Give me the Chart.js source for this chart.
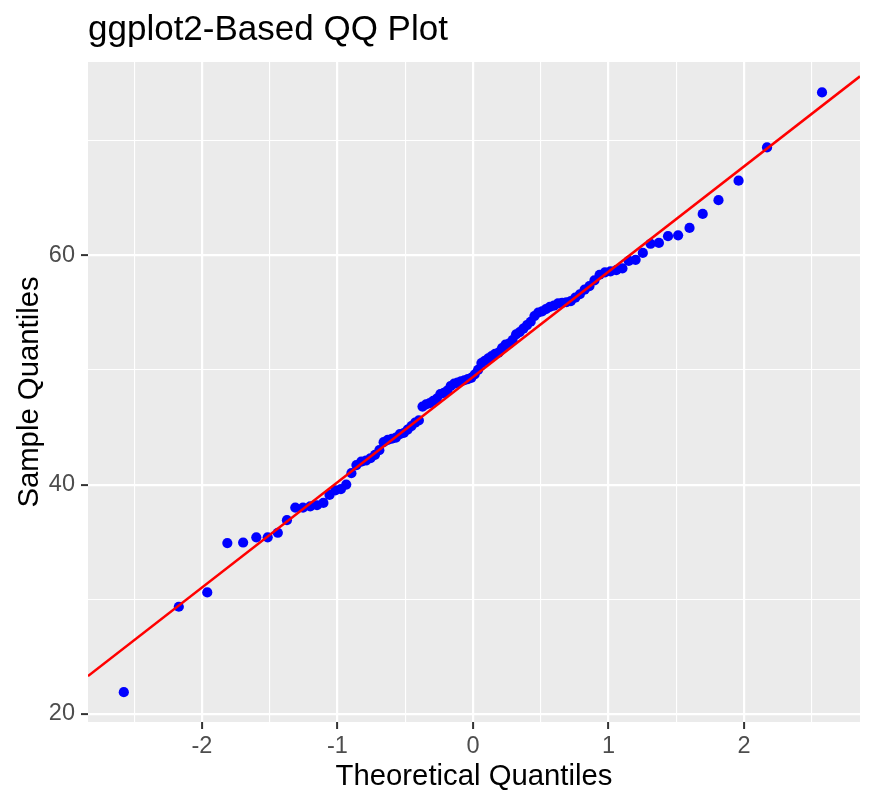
<!DOCTYPE html>
<html>
<head>
<meta charset="utf-8">
<title>ggplot2-Based QQ Plot</title>
<script src="https://cdn.jsdelivr.net/npm/chart.js@4/dist/chart.umd.min.js"></script>
<style>
  html, body { margin: 0; padding: 0; background: #fff; }
  #wrap { width: 874px; height: 806px; }
</style>
</head>
<body>
<div id="wrap"><canvas id="chart" width="874" height="806"></canvas></div>
<script>
// theoretical quantiles (x) and sorted sample values (y)
const theoretical = [
  -2.5758, -2.1701, -1.9600, -1.8119, -1.6954, -1.5982, -1.5141, -1.4395, -1.3722, -1.3106,
  -1.2536, -1.2004, -1.1503, -1.1031, -1.0581, -1.0152, -0.9741, -0.9346, -0.8965, -0.8596,
  -0.8239, -0.7892, -0.7554, -0.7225, -0.6903, -0.6588, -0.6280, -0.5978, -0.5681, -0.5388,
  -0.5101, -0.4817, -0.4538, -0.4261, -0.3989, -0.3719, -0.3451, -0.3186, -0.2924, -0.2663,
  -0.2404, -0.2147, -0.1891, -0.1637, -0.1383, -0.1130, -0.0878, -0.0627, -0.0376, -0.0125,
  0.0125, 0.0376, 0.0627, 0.0878, 0.1130, 0.1383, 0.1637, 0.1891, 0.2147, 0.2404,
  0.2663, 0.2924, 0.3186, 0.3451, 0.3719, 0.3989, 0.4261, 0.4538, 0.4817, 0.5101,
  0.5388, 0.5681, 0.5978, 0.6280, 0.6588, 0.6903, 0.7225, 0.7554, 0.7892, 0.8239,
  0.8596, 0.8965, 0.9346, 0.9741, 1.0152, 1.0581, 1.1031, 1.1503, 1.2004, 1.2536,
  1.3106, 1.3722, 1.4395, 1.5141, 1.5982, 1.6954, 1.8119, 1.9600, 2.1701, 2.5758
];

const sample = [
  21.9, 29.35, 30.6, 34.9, 34.95, 35.4, 35.4, 35.8, 36.9, 38.0,
  38.0, 38.1, 38.2, 38.4, 39.1, 39.5, 39.6, 40.0, 41.0, 41.7,
  42.0, 42.1, 42.3, 42.6, 43.0, 43.7, 43.9, 44.0, 44.1, 44.4,
  44.5, 44.8, 45.1, 45.4, 45.6, 46.8, 47.0, 47.1, 47.3, 47.5,
  47.9, 48.0, 48.2, 48.6, 48.8, 48.9, 49.0, 49.1, 49.2, 49.3,
  49.6, 50.0, 50.6, 50.8, 51.0, 51.2, 51.4, 51.5, 51.9, 52.2,
  52.3, 52.6, 53.1, 53.3, 53.6, 53.9, 54.2, 54.7, 55.0, 55.1,
  55.3, 55.5, 55.6, 55.8, 55.85, 55.9, 56.0, 56.3, 56.6, 57.0,
  57.3, 57.8, 58.3, 58.5, 58.6, 58.7, 58.85, 59.5, 59.6, 60.2,
  61.0, 61.07, 61.66, 61.74, 62.38, 63.6, 64.8, 66.5, 69.4, 74.2
];

// reference line end points (across the whole panel)
const lineX = [-2.84, 2.856];
const lineY = [23.3, 75.6];

const xTicks = [-2.5, -2, -1.5, -1, -0.5, 0, 0.5, 1, 1.5, 2, 2.5];
const yTicks = [20, 30, 40, 50, 60, 70];

const FONT = '"Liberation Sans", Arial, Helvetica, sans-serif';

const isMajorX = (v) => Number.isInteger(v);
const isMajorY = (v) => v % 20 === 0;

const panelPlugin = {
  id: 'panel',
  beforeDraw(chart) {
    const { ctx, chartArea } = chart;
    ctx.save();
    ctx.fillStyle = '#EBEBEB';
    ctx.fillRect(chartArea.left, chartArea.top,
      chartArea.right - chartArea.left, chartArea.bottom - chartArea.top);
    ctx.restore();
  },
  afterDraw(chart) {
    const { ctx } = chart;
    ctx.save();
    ctx.fillStyle = '#000';
    ctx.font = '35px ' + FONT;
    ctx.textBaseline = 'alphabetic';
    ctx.textAlign = 'left';
    ctx.fillText('ggplot2-Based QQ Plot', chart.chartArea.left, 40);
    ctx.restore();
  }
};

const points = theoretical.map((x, i) => ({ x, y: sample[i] }));
const line = lineX.map((x, i) => ({ x, y: lineY[i] }));

const ctx = document.getElementById('chart').getContext('2d');

new Chart(ctx, {
  type: 'scatter',
  data: {
    datasets: [
      {
        type: 'line',
        data: line,
        borderColor: '#FF0000',
        borderWidth: 2.5,
        pointRadius: 0,
        fill: false,
        order: 1
      },
      {
        data: points,
        backgroundColor: '#0000FF',
        borderColor: '#0000FF',
        pointRadius: 5.1,
        borderWidth: 0,
        order: 2
      }
    ]
  },
  options: {
    responsive: false,
    animation: false,
    devicePixelRatio: 1,
    layout: { padding: { top: 62, right: 14, left: 0, bottom: 0 } },
    plugins: {
      legend: { display: false },
      tooltip: { enabled: false }
    },
    scales: {
      x: {
        type: 'linear',
        min: -2.84,
        max: 2.856,
        afterBuildTicks(scale) {
          scale.ticks = xTicks.map((v) => ({ value: v }));
        },
        afterFit(scale) {
          scale.height = 84;
        },
        border: { display: false },
        grid: {
          color: '#FFFFFF',
          lineWidth: (c) => (isMajorX(c.tick.value) ? 2.2 : 1.1),
          drawTicks: true,
          tickLength: 7,
          tickColor: (c) => (isMajorX(c.tick.value) ? '#333333' : 'rgba(0,0,0,0)'),
          tickWidth: 2
        },
        ticks: {
          autoSkip: false,
          maxRotation: 0,
          padding: 3,
          color: '#4D4D4D',
          font: { family: FONT, size: 23.5 },
          callback: (v) => (isMajorX(v) ? String(v) : '')
        },
        title: {
          display: true,
          text: 'Theoretical Quantiles',
          color: '#000',
          font: { family: FONT, size: 29.3 },
          padding: { top: 0, bottom: 12 }
        }
      },
      y: {
        type: 'linear',
        min: 19.3,
        max: 76.85,
        afterBuildTicks(scale) {
          scale.ticks = yTicks.map((v) => ({ value: v }));
        },
        afterFit(scale) {
          scale.width = 88;
        },
        border: { display: false },
        grid: {
          color: '#FFFFFF',
          lineWidth: (c) => (isMajorY(c.tick.value) ? 2.2 : 1.1),
          drawTicks: true,
          tickLength: 7,
          tickColor: (c) => (isMajorY(c.tick.value) ? '#333333' : 'rgba(0,0,0,0)'),
          tickWidth: 2
        },
        ticks: {
          autoSkip: false,
          padding: 6,
          color: '#4D4D4D',
          font: { family: FONT, size: 23.5 },
          callback: (v) => (isMajorY(v) ? String(v) : '')
        },
        title: {
          display: true,
          text: 'Sample Quantiles',
          color: '#000',
          font: { family: FONT, size: 29.3 },
          padding: { top: 12, bottom: 0 }
        }
      }
    }
  },
  plugins: [panelPlugin]
});
</script>
</body>
</html>
